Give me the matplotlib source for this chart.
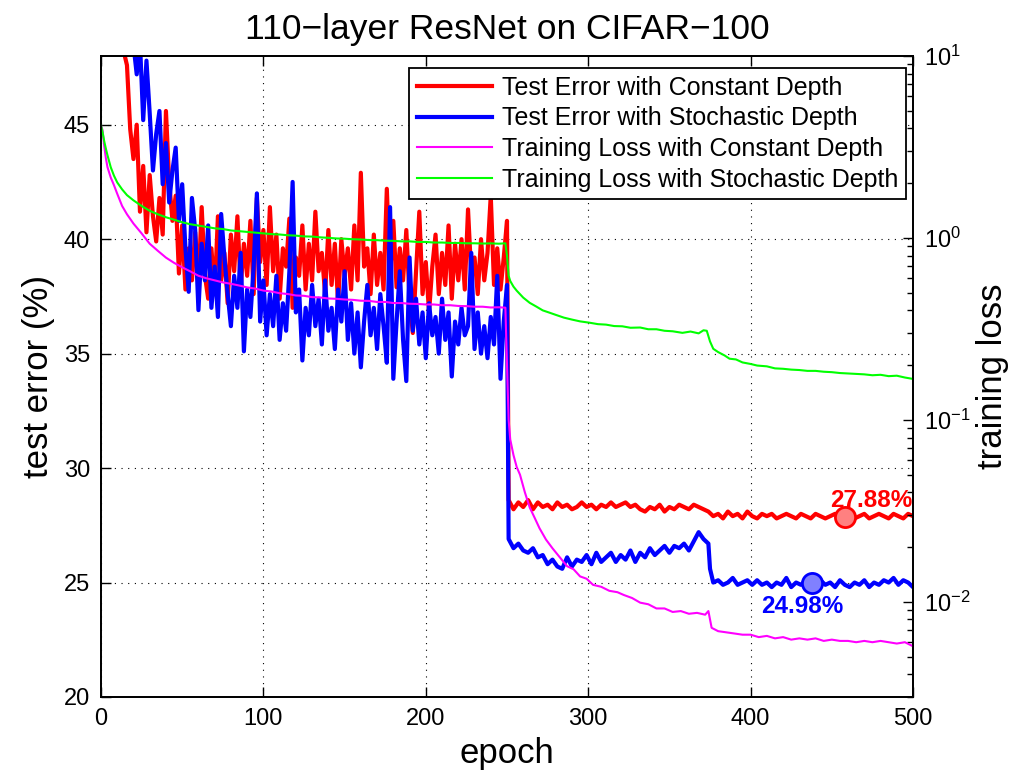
import matplotlib
matplotlib.use("Agg")
import matplotlib.pyplot as plt
from matplotlib.lines import Line2D

plt.rcParams.update({
    "font.family": ["Liberation Sans", "DejaVu Sans"],
    "mathtext.fontset": "custom",
    "mathtext.rm": "Liberation Sans",
    "mathtext.it": "Liberation Sans:italic",
    "mathtext.bf": "Liberation Sans:bold",
    "figure.facecolor": "white",
    "axes.facecolor": "white",
})

# ---------------- data ----------------
# test error (%) with constant depth
red_ep = [12, 14, 16, 18, 20, 22, 24, 26, 28, 30, 32, 34, 36, 38, 40, 42, 44, 46, 48, 50,
          52, 54, 56, 58, 60, 62, 64, 66, 68, 70, 72, 74, 76, 78, 80, 82, 84, 86, 88, 90,
          92, 94, 96, 98, 100, 102, 104, 106, 108, 110, 112, 114, 116, 118, 120, 122, 124, 126, 128, 130,
          132, 134, 136, 138, 140, 142, 144, 146, 148, 150, 152, 154, 156, 158, 160, 162, 164, 166, 168, 170,
          172, 174, 176, 178, 180, 182, 184, 186, 188, 190, 192, 194, 196, 198, 200, 202, 204, 206, 208, 210,
          212, 214, 216, 218, 220, 222, 224, 226, 228, 230, 232, 234, 236, 238, 240, 242, 244, 246, 248, 250,
          251, 254, 257, 260, 263, 266, 269, 272, 275, 278, 281, 284, 287, 290, 293, 296, 299, 302, 305, 308,
          311, 314, 317, 320, 323, 326, 329, 332, 335, 338, 341, 344, 347, 350, 353, 356, 359, 362, 365, 368,
          371, 374, 377, 380, 383, 386, 389, 392, 395, 398, 401, 404, 407, 410, 413, 416, 419, 422, 425, 428,
          431, 434, 437, 440, 443, 446, 449, 452, 455, 458, 461, 464, 467, 470, 473, 476, 479, 482, 485, 488,
          491, 494, 497, 500]
red_err = [49.5, 48.2, 47.6, 44.8, 43.5, 45.0, 41.2, 43.2, 40.3, 42.8, 41.0, 39.9, 41.8, 40.2, 45.6, 42.5, 40.8, 41.9, 38.5, 40.6,
           37.8, 39.6, 38.2, 40.3, 38.0, 41.4, 38.4, 37.4, 39.6, 37.6, 41.0, 38.2, 39.4, 37.2, 40.2, 38.6, 41.0, 37.9, 39.8, 38.4,
           40.8, 37.6, 41.8, 39.0, 40.4, 38.0, 41.4, 38.6, 40.2, 37.4, 39.6, 38.8, 40.9, 37.0, 39.2, 38.4, 40.6, 37.8, 39.8, 38.2,
           41.2, 38.6, 39.4, 37.6, 40.4, 38.0, 39.8, 37.2, 40.0, 38.4, 39.6, 37.8, 40.6, 38.2, 42.9, 38.8, 39.6, 37.6, 40.2, 38.0,
           39.4, 37.8, 42.2, 38.4, 40.8, 37.9, 39.6, 38.2, 40.4, 37.4, 35.9, 38.6, 41.2, 37.6, 39.0, 36.8, 38.8, 40.2, 37.6, 39.4,
           38.0, 40.6, 37.4, 39.8, 38.2, 40.0, 37.8, 41.3, 38.4, 39.2, 37.6, 40.0, 38.2, 39.4, 41.9, 38.0, 39.6, 37.8, 39.2, 40.8,
           28.6, 28.2, 28.5, 28.3, 28.6, 28.2, 28.5, 28.3, 28.4, 28.2, 28.5, 28.3, 28.4, 28.2, 28.3, 28.5, 28.3, 28.4, 28.2, 28.4,
           28.3, 28.5, 28.3, 28.4, 28.5, 28.3, 28.4, 28.2, 28.1, 28.3, 28.2, 28.4, 28.1, 28.3, 28.2, 28.4, 28.3, 28.2, 28.4, 28.3,
           28.2, 28.1, 27.9, 28.0, 27.8, 28.1, 27.9, 28.0, 27.8, 28.1, 27.9, 27.8, 28.0, 27.9, 28.0, 27.8, 27.9, 28.0, 27.9, 27.8,
           28.0, 27.9, 27.8, 28.0, 27.9, 27.8, 27.9, 28.0, 27.9, 27.9, 28.0, 27.8, 27.9, 28.0, 27.8, 27.9, 28.0, 27.9, 27.8, 28.0,
           27.9, 27.8, 28.0, 27.9]

# test error (%) with stochastic depth
blue_ep = [18, 20, 22, 24, 26, 28, 30, 32, 34, 36, 38, 40, 42, 44, 46, 48, 50, 52, 54, 56,
           58, 60, 62, 64, 66, 68, 70, 72, 74, 76, 78, 80, 82, 84, 86, 88, 90, 92, 94, 96,
           98, 100, 102, 104, 106, 108, 110, 112, 114, 116, 118, 120, 122, 124, 126, 128, 130, 132, 134, 136,
           138, 140, 142, 144, 146, 148, 150, 152, 154, 156, 158, 160, 162, 164, 166, 168, 170, 172, 174, 176,
           178, 180, 182, 184, 186, 188, 190, 192, 194, 196, 198, 200, 202, 204, 206, 208, 210, 212, 214, 216,
           218, 220, 222, 224, 226, 228, 230, 232, 234, 236, 238, 240, 242, 244, 246, 248, 250,
           251, 254, 257, 260, 263, 266, 269, 272, 275, 278, 281, 284, 287, 290, 293, 296, 299, 302, 305, 308,
           311, 314, 317, 320, 323, 326, 329, 332, 335, 338, 341, 344, 347, 350, 353, 356, 359, 362, 365, 368,
           371, 374, 375, 377, 380, 383, 386, 389, 392, 395, 398, 401, 404, 407, 410, 413, 416, 419, 422, 425,
           428, 431, 434, 437, 440, 443, 446, 449, 452, 455, 458, 461, 464, 467, 470, 473, 476, 479, 482, 485,
           488, 491, 494, 497, 500]
blue_err = [49.0, 48.5, 47.2, 48.6, 45.2, 47.8, 45.5, 43.0, 44.6, 45.6, 42.4, 44.2, 41.6, 43.0, 44.0, 40.8, 42.4, 39.6, 37.7, 41.8,
            40.4, 36.9, 39.8, 38.2, 40.6, 37.0, 38.8, 36.6, 41.1, 39.2, 37.6, 36.2, 38.4, 37.0, 39.4, 35.1, 37.8, 36.6, 38.8, 42.0,
            36.4, 38.2, 35.8, 37.6, 36.2, 38.4, 35.6, 37.2, 36.0, 38.6, 42.5, 36.8, 37.8, 34.7, 37.0, 35.8, 38.0, 36.2, 37.4, 35.4,
            38.2, 36.0, 37.0, 35.2, 37.8, 36.4, 38.6, 35.6, 37.2, 35.0, 36.8, 34.4, 36.4, 38.0, 35.8, 37.0, 35.2, 37.6, 36.2, 34.6,
            41.4, 33.9, 36.4, 38.6, 35.6, 33.8, 39.2, 36.0, 37.4, 35.4, 36.8, 34.8, 37.2, 35.8, 36.6, 35.0, 37.4, 35.6, 36.8, 34.0,
            36.4, 35.4, 37.0, 35.8, 36.2, 39.4, 35.2, 36.8, 35.0, 36.2, 34.8, 36.6, 35.4, 38.4, 33.9, 36.4, 38.0,
            26.9, 26.5, 26.7, 26.4, 26.3, 26.5, 26.1, 26.2, 25.8, 26.0, 25.7, 25.6, 26.1, 25.7, 26.0, 25.9, 26.2, 25.8, 26.3, 25.9,
            26.1, 26.3, 25.9, 26.2, 26.0, 26.4, 25.9, 26.3, 26.1, 26.5, 26.2, 26.4, 26.6, 26.3, 26.6, 26.5, 26.7, 26.4, 26.8, 27.2,
            26.9, 26.7, 25.6, 25.0, 25.1, 24.9, 25.0, 25.2, 24.9, 25.0, 25.1, 24.9, 25.1, 24.9, 25.0, 24.8, 25.0, 24.9, 25.2, 24.8,
            25.0, 24.9, 25.1, 25.0, 25.0, 25.1, 24.9, 25.0, 24.8, 25.1, 24.9, 24.8, 25.0, 24.9, 25.1, 24.8, 25.0, 24.9, 25.1, 25.0,
            25.2, 24.9, 25.1, 25.0, 24.8]

# training loss with constant depth
mag_ep = [0, 1, 2, 3, 4, 6, 8, 10, 13, 16, 20, 25, 30, 35, 40, 45, 50, 55, 60, 65,
          70, 75, 80, 85, 90, 95, 100, 105, 110, 115, 120, 125, 130, 135, 140, 145, 150, 155, 160, 165,
          170, 175, 180, 185, 190, 195, 200, 205, 210, 215, 220, 225, 230, 235, 240, 245, 249, 250, 251, 252,
          254, 256, 258, 261, 264, 267, 270, 274, 278, 282, 287, 291, 295, 299, 303, 308, 313, 318, 322, 327,
          332, 337, 342, 347, 352, 357, 362, 367, 372, 374, 376, 380, 385, 390, 395, 400, 405, 410, 415, 420,
          425, 430, 435, 440, 445, 450, 455, 460, 465, 470, 475, 480, 485, 490, 495, 500]
mag_loss = [4.17, 3.9, 3.2, 2.75, 2.45, 2.15, 1.95, 1.75, 1.5, 1.35, 1.2, 1.06, 0.93, 0.85, 0.78, 0.73, 0.69, 0.655, 0.62, 0.6,
            0.585, 0.57, 0.56, 0.548, 0.535, 0.527, 0.514, 0.508, 0.497, 0.492, 0.483, 0.481, 0.473, 0.471, 0.465, 0.463, 0.459, 0.457, 0.452, 0.451,
            0.445, 0.445, 0.439, 0.439, 0.435, 0.434, 0.431, 0.431, 0.427, 0.427, 0.423, 0.422, 0.419, 0.419, 0.415, 0.416, 0.414, 0.2, 0.1, 0.078,
            0.064, 0.055, 0.05, 0.04, 0.033, 0.029, 0.0254, 0.022, 0.0197, 0.0178, 0.0157, 0.0151, 0.0138, 0.0134, 0.0124, 0.0121, 0.0115, 0.0113, 0.0109, 0.0105,
            0.0099, 0.0097, 0.0092, 0.0092, 0.0088, 0.0089, 0.0086, 0.0087, 0.0085, 0.0089, 0.0072, 0.0069, 0.0068, 0.0067, 0.0066, 0.0066, 0.0064, 0.0065, 0.0063, 0.0064,
            0.0062, 0.0063, 0.0062, 0.0063, 0.0061, 0.0062, 0.0061, 0.0061, 0.0060, 0.0061, 0.0060, 0.0061, 0.0060, 0.0059, 0.0060, 0.0057]

# training loss with stochastic depth
grn_ep = [0, 1, 2, 3, 4, 6, 8, 10, 13, 16, 20, 25, 30, 35, 40, 45, 50, 55, 60, 65,
          70, 75, 80, 85, 90, 95, 100, 105, 110, 115, 120, 125, 130, 135, 140, 145, 150, 155, 160, 165,
          170, 175, 180, 185, 190, 195, 200, 205, 210, 215, 220, 225, 230, 235, 240, 245, 249, 250, 251, 252,
          254, 256, 260, 264, 268, 272, 276, 280, 285, 290, 295, 301, 306, 311, 316, 321, 326, 332, 337, 342,
          347, 352, 358, 363, 368, 371, 373, 375, 377, 380, 384, 387, 391, 395, 400, 404, 410, 415, 420, 425,
          430, 435, 440, 445, 450, 455, 460, 465, 470, 475, 480, 485, 490, 495, 500]
grn_loss = [4.17, 3.8, 3.4, 3.1, 2.85, 2.45, 2.2, 2.02, 1.85, 1.72, 1.61, 1.5, 1.41, 1.35, 1.3, 1.26, 1.22, 1.19, 1.17, 1.15,
            1.13, 1.12, 1.1, 1.09, 1.08, 1.07, 1.06, 1.05, 1.045, 1.035, 1.03, 1.02, 1.018, 1.008, 1.002, 0.994, 0.991, 0.984, 0.981, 0.974,
            0.973, 0.966, 0.964, 0.958, 0.958, 0.951, 0.951, 0.944, 0.944, 0.939, 0.939, 0.935, 0.935, 0.932, 0.934, 0.930, 0.935, 0.8, 0.62, 0.58,
            0.54, 0.513, 0.47, 0.44, 0.42, 0.40, 0.389, 0.378, 0.365, 0.356, 0.348, 0.342, 0.336, 0.334, 0.328, 0.327, 0.321, 0.322, 0.315, 0.315,
            0.309, 0.307, 0.301, 0.306, 0.299, 0.311, 0.309, 0.27, 0.246, 0.236, 0.226, 0.217, 0.215, 0.207, 0.203, 0.199, 0.197, 0.192, 0.191, 0.189,
            0.188, 0.186, 0.186, 0.184, 0.183, 0.181, 0.180, 0.179, 0.178, 0.176, 0.177, 0.174, 0.175, 0.171, 0.168]

# final error markers and their labels
best_ep = [458, 438]
best_err = [27.88, 24.98]
best_text = ["27.88%", "24.98%"]

legend_labels = ["Test Error with Constant Depth", "Test Error with Stochastic Depth",
                 "Training Loss with Constant Depth", "Training Loss with Stochastic Depth"]

RED = "#ff0000"
BLUE = "#0000ff"
MAGENTA = "#ff00ff"
GREEN = "#00ff00"

fig = plt.figure(figsize=(10.19, 7.74), dpi=100)
ax = fig.add_axes([0.0991, 0.0995, 0.7969, 0.8281])
ax2 = ax.twinx()

ax.plot(red_ep, red_err, color=RED, linewidth=3.0)
ax.plot(blue_ep, blue_err, color=BLUE, linewidth=3.0)

ax.plot(best_ep[0], best_err[0], "o", markersize=14.5, markerfacecolor="#ff8080",
        markeredgecolor=RED, markeredgewidth=2)
ax.plot(best_ep[1], best_err[1], "o", markersize=14.5, markerfacecolor="#8080ff",
        markeredgecolor=BLUE, markeredgewidth=2)
ax.text(best_ep[0] + 16, best_err[0] + 0.42, best_text[0], color=RED, fontsize=17.5,
        weight="bold", ha="center", va="baseline")
ax.text(best_ep[1] - 6, best_err[1] - 1.31, best_text[1], color=BLUE, fontsize=17.5,
        weight="bold", ha="center", va="baseline")

ax2.plot(mag_ep, mag_loss, color=MAGENTA, linewidth=1.5)
ax2.plot(grn_ep, grn_loss, color=GREEN, linewidth=1.5)

ax.set_xlim(0, 500)
ax.set_ylim(20, 48)
ax.set_xticks([0, 100, 200, 300, 400, 500])
ax.set_yticks([20, 25, 30, 35, 40, 45])
ax.grid(True, linestyle=(0, (1, 5)), color="black", linewidth=0.8)
ax.tick_params(direction="in", top=True, right=False, length=7, width=1,
               labelsize=17, pad=8)

ax2.set_yscale("log")
ax2.set_ylim(0.003, 10)
ax2.set_yticks([1e-2, 1e-1, 1e0, 1e1])
ax2.set_yticklabels([r"$10^{-2}$", r"$10^{-1}$", r"$10^{0}$", r"$10^{1}$"])
ax2.tick_params(which="major", direction="in", length=7, width=1, labelsize=17, pad=8)
ax2.tick_params(which="minor", direction="in", length=4, width=1)

for a in (ax, ax2):
    for s in a.spines.values():
        s.set_linewidth(1.3)

ax.set_xlabel("epoch", fontsize=25, labelpad=5)
ax.set_ylabel("test error (%)", fontsize=25, labelpad=6)
ax2.set_ylabel("training loss", fontsize=25, labelpad=4)
ax.set_title("110\u2212layer ResNet on CIFAR\u2212100", fontsize=25.5, pad=12)

handles = [Line2D([], [], color=RED, linewidth=3.0),
           Line2D([], [], color=BLUE, linewidth=3.0),
           Line2D([], [], color=MAGENTA, linewidth=1.5),
           Line2D([], [], color=GREEN, linewidth=1.5)]
leg = ax2.legend(handles, legend_labels, loc="upper right", bbox_to_anchor=(0.991, 0.981),
                 fontsize=18, fancybox=False, framealpha=1, edgecolor="black",
                 handlelength=3.0, handletextpad=0.4, labelspacing=0.27, borderpad=0.3,
                 borderaxespad=0)
leg.get_frame().set_linewidth(1.3)

fig.savefig("out.png", dpi=100)
